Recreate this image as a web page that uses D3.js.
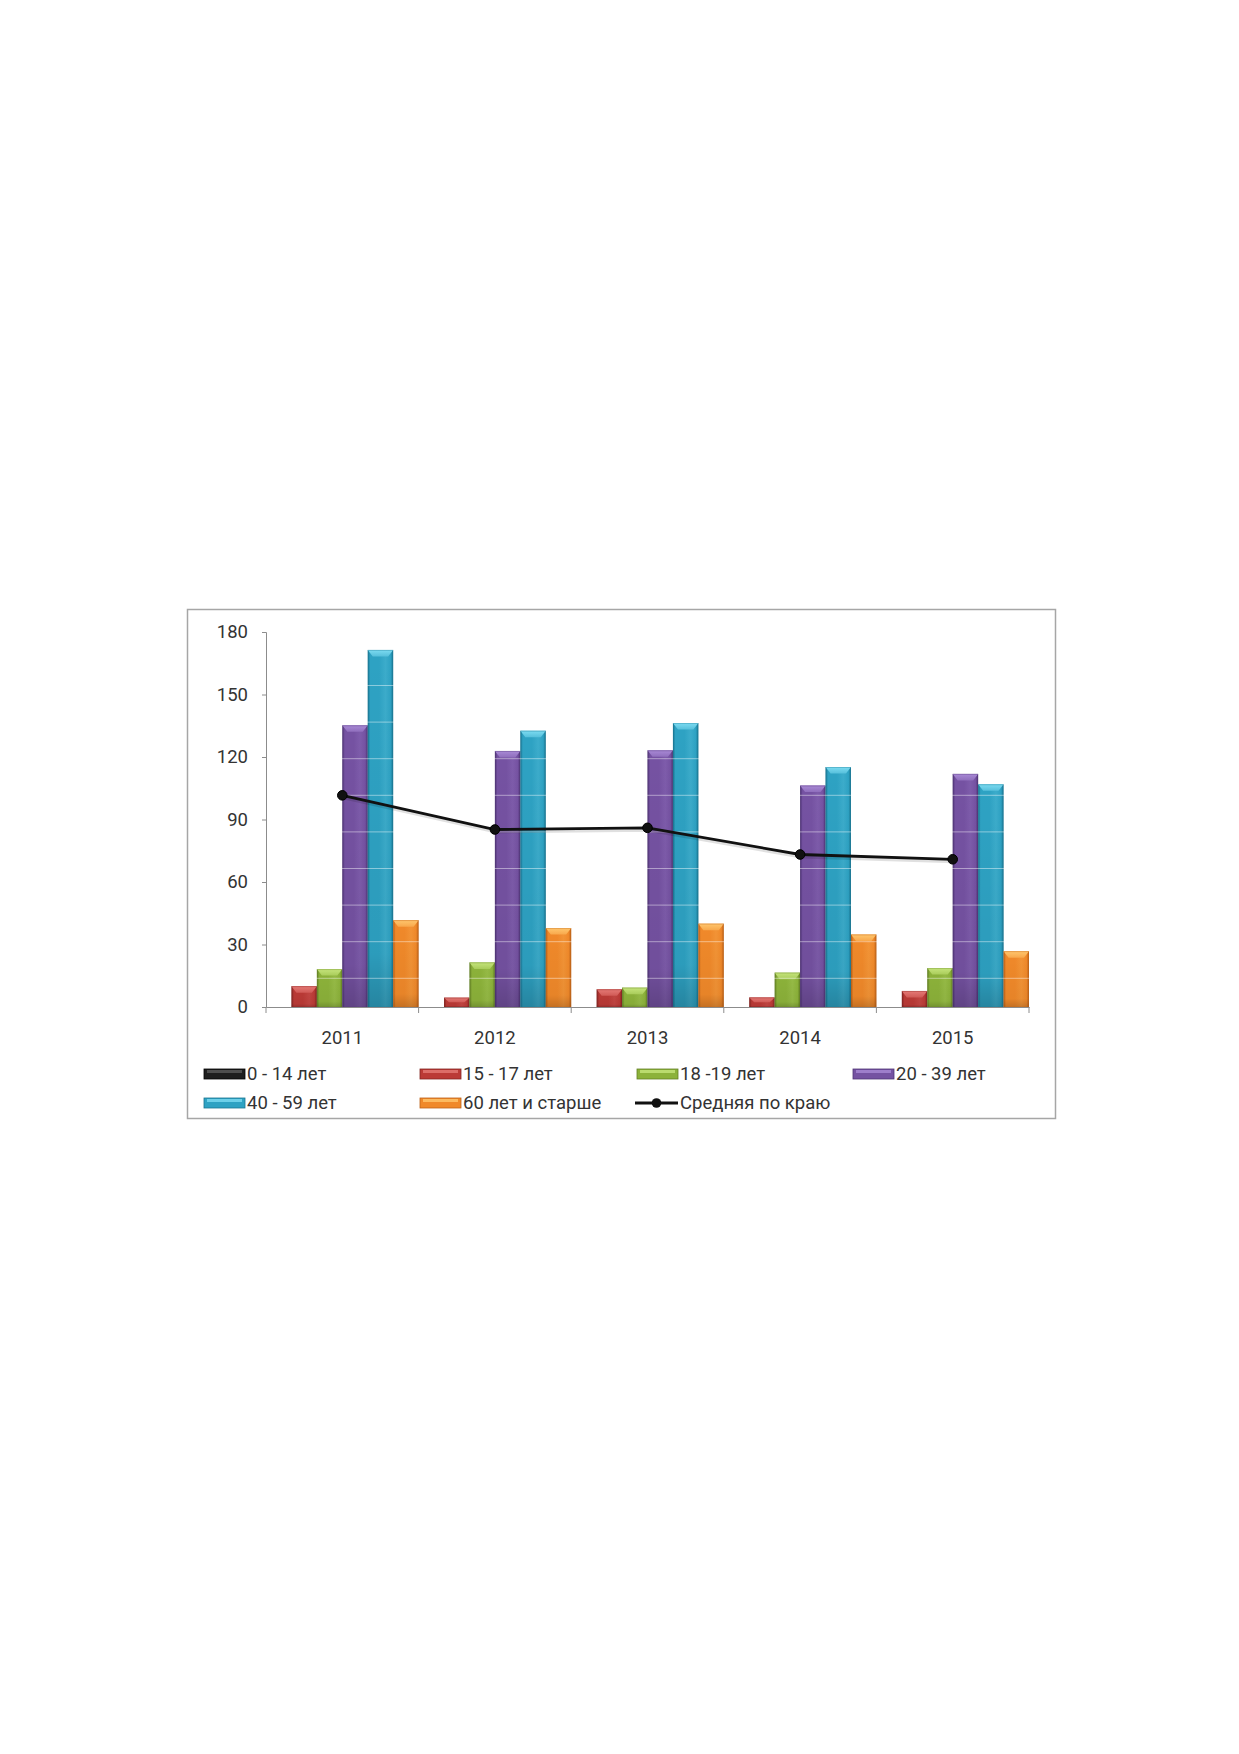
<!DOCTYPE html>
<html>
<head>
<meta charset="utf-8">
<script src="https://cdn.jsdelivr.net/npm/d3@7/dist/d3.min.js"></script>
<style>
  html, body { margin: 0; padding: 0; background: #fff; }
  svg { display: block; }
  text { font-family: Roboto, "Noto Sans", sans-serif; fill: #333; }
</style>
</head>
<body>
<svg id="chart" width="1239" height="1754"></svg>
<script>
// ---- data ----
const years = ["2011", "2012", "2013", "2014", "2015"];
const seriesNames = ["0 - 14 лет", "15 - 17 лет", "18 -19 лет", "20 - 39 лет", "40 - 59 лет", "60 лет и старше"];
const age0_14  = [0, 0, 0, 0, 0];
const age15_17 = [10, 4.5, 8.5, 4.6, 7.7];
const age18_19 = [18.2, 21.4, 9.3, 16.5, 18.7];
const age20_39 = [135.2, 122.9, 123.2, 106.3, 111.9];
const age40_59 = [171.4, 132.6, 136.3, 115.2, 106.9];
const age60    = [41.7, 37.9, 40, 34.8, 26.8];
const avgLineName = "Средняя по краю";
const avgRegion = [101.6, 85.2, 86, 73.2, 70.9];
const yTicks = [0, 30, 60, 90, 120, 150, 180];

const seriesValues = [age0_14, age15_17, age18_19, age20_39, age40_59, age60];

// ---- styles ----
const palette = [
  { body: "#1e1e1e", light: "#5a5a5a", dark: "#000000" },
  { body: "#bb3a36", light: "#e57a76", dark: "#842522" },
  { body: "#8cb23a", light: "#c6e57c", dark: "#638025" },
  { body: "#7552a2", light: "#a98ad6", dark: "#4f3575" },
  { body: "#2ea2c3", light: "#7ddcf2", dark: "#1a7591" },
  { body: "#f0892a", light: "#ffc76e", dark: "#bd6218" }
];

const svg = d3.select("#chart");
const defs = svg.append("defs");

palette.forEach((c, i) => {
  const g = defs.append("linearGradient").attr("id", "bar" + i)
    .attr("x1", "0").attr("x2", "1").attr("y1", "0").attr("y2", "0");
  [[0, c.dark], [0.1, c.body], [0.45, c.body], [0.7, d3.interpolateRgb(c.body, c.light)(0.18)], [0.9, c.body], [1, c.dark]]
    .forEach(([o, col]) => g.append("stop").attr("offset", o).attr("stop-color", col));
  const v = defs.append("linearGradient").attr("id", "shade" + i)
    .attr("x1", "0").attr("x2", "0").attr("y1", "0").attr("y2", "1");
  v.append("stop").attr("offset", 0).attr("stop-color", "#000").attr("stop-opacity", 0);
  v.append("stop").attr("offset", 0.85).attr("stop-color", "#000").attr("stop-opacity", 0.04);
  v.append("stop").attr("offset", 1).attr("stop-color", "#000").attr("stop-opacity", 0.18);
  const cap = defs.append("linearGradient").attr("id", "cap" + i)
    .attr("x1", "0").attr("x2", "0").attr("y1", "0").attr("y2", "1");
  cap.append("stop").attr("offset", 0).attr("stop-color", c.light);
  cap.append("stop").attr("offset", 1).attr("stop-color", d3.interpolateRgb(c.light, c.body)(0.5));
});

// ---- frame ----
svg.append("rect").attr("x", 187.5).attr("y", 609.5).attr("width", 868).attr("height", 509)
  .attr("fill", "#fff").attr("stroke", "#a6a6a6").attr("stroke-width", 1.5);

// ---- scales ----
const x = d3.scaleBand().domain(years).range([266, 1029]).paddingInner(0).paddingOuter(0);
const xs = d3.scaleBand().domain(seriesNames).range([0, x.bandwidth()]).padding(0);
const y = d3.scaleLinear().domain([0, 180]).range([1007, 632]);

// ---- bars ----
const barsG = svg.append("g");
seriesValues.forEach((vals, si) => {
  vals.forEach((v, yi) => {
    if (v <= 0) return;
    const bx = x(years[yi]) + xs(seriesNames[si]);
    const bw = xs.bandwidth();
    const top = y(v), bot = y(0);
    const g = barsG.append("g");
    g.append("rect").attr("x", bx).attr("y", top).attr("width", bw).attr("height", bot - top)
      .attr("fill", `url(#bar${si})`);
    g.append("rect").attr("x", bx).attr("y", top).attr("width", bw).attr("height", bot - top)
      .attr("fill", `url(#shade${si})`);
    const capH = Math.min(6.5, (bot - top) * 0.5);
    const inset = Math.min(5, bw * 0.2);
    g.append("path")
      .attr("d", `M${bx},${top} L${bx + bw},${top} L${bx + bw - inset},${top + capH} L${bx + inset},${top + capH} Z`)
      .attr("fill", `url(#cap${si})`);
    g.append("rect").attr("x", bx + 0.5).attr("y", top + 0.5).attr("width", bw - 1).attr("height", bot - top - 0.5)
      .attr("fill", "none").attr("stroke", palette[si].dark).attr("stroke-opacity", 0.35).attr("stroke-width", 1);
  });
});

// faint light banding lines over bars (scan artefact look)
const bandLines = d3.range(978.3, 640, -36.6);
svg.append("g").selectAll("line").data(bandLines).join("line")
  .attr("x1", 266).attr("x2", 1029).attr("y1", d => d).attr("y2", d => d)
  .attr("stroke", "#fff").attr("stroke-opacity", 0.45).attr("stroke-width", 1);

// ---- axes ----
const yAxis = svg.append("g").attr("transform", "translate(266,0)")
  .call(d3.axisLeft(y).tickValues(yTicks).tickSize(4).tickPadding(14).tickFormat(d3.format("d")));
yAxis.select(".domain").attr("stroke", "#8c8c8c");
yAxis.selectAll(".tick line").attr("stroke", "#8c8c8c");
yAxis.selectAll("text").style("font-size", "18.5px").attr("fill", "#333");

const xAxis = svg.append("g").attr("transform", "translate(0,1007)")
  .call(d3.axisBottom(x).tickSize(0).tickPadding(24));
xAxis.select(".domain").attr("stroke", "#8c8c8c");
xAxis.selectAll("text").style("font-size", "18.5px").attr("fill", "#333");
// category separators
svg.append("g").selectAll("line").data(d3.range(years.length + 1)).join("line")
  .attr("x1", i => 266 + i * x.step()).attr("x2", i => 266 + i * x.step())
  .attr("y1", 1007).attr("y2", 1013).attr("stroke", "#8c8c8c");

// ---- average line ----
const lineGen = d3.line().x((d, i) => x(years[i]) + x.bandwidth() / 2).y(d => y(d));
svg.append("path").datum(avgRegion).attr("d", lineGen)
  .attr("fill", "none").attr("stroke", "#000").attr("stroke-opacity", 0.12).attr("stroke-width", 4)
  .attr("transform", "translate(1,2)");
svg.append("path").datum(avgRegion).attr("d", lineGen)
  .attr("fill", "none").attr("stroke", "#111").attr("stroke-width", 2.8);
svg.append("g").selectAll("circle").data(avgRegion).join("circle")
  .attr("cx", (d, i) => x(years[i]) + x.bandwidth() / 2).attr("cy", d => y(d)).attr("r", 4.8)
  .attr("fill", "#111").attr("stroke", "#000").attr("stroke-width", 1);

// ---- legend ----
const legendItems = seriesNames.map((n, i) => ({ name: n, type: "bar", idx: i }))
  .concat([{ name: avgLineName, type: "line" }]);
const colX = [204, 420, 637, 853];
const rowY = [1074, 1103];
const lg = svg.append("g");
legendItems.forEach((it, k) => {
  const cx = colX[k % 4], cy = rowY[Math.floor(k / 4)];
  const g = lg.append("g");
  if (it.type === "bar") {
    g.append("rect").attr("x", cx).attr("y", cy - 5).attr("width", 41).attr("height", 10)
      .attr("fill", palette[it.idx].body).attr("stroke", palette[it.idx].dark).attr("stroke-width", 0.8);
    g.append("rect").attr("x", cx + 3).attr("y", cy - 4).attr("width", 35).attr("height", 3)
      .attr("fill", palette[it.idx].light).attr("opacity", 0.8);
  } else {
    g.append("line").attr("x1", cx - 2).attr("x2", cx + 41).attr("y1", cy).attr("y2", cy)
      .attr("stroke", "#111").attr("stroke-width", 2.8);
    g.append("circle").attr("cx", cx + 19.5).attr("cy", cy).attr("r", 4.8).attr("fill", "#111");
  }
  g.append("text").attr("x", cx + 43).attr("y", cy).attr("dy", "0.35em")
    .style("font-size", "18.5px").text(it.name);
});
</script>
</body>
</html>
